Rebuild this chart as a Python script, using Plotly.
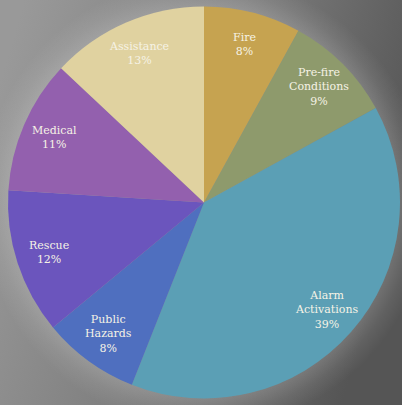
import base64
import math
import plotly.graph_objects as go

labels = ["Fire", "Pre-fire<br>Conditions", "Alarm<br>Activations", "Public<br>Hazards",
          "Rescue", "Medical", "Assistance"]
values = [8, 9, 39, 8, 12, 11, 13]
colors = ["#C6A350", "#8E9A6C", "#5B9FB5", "#4F6FBF", "#6B55BD", "#9360AE", "#E0D2A0"]

W, H = 402, 405
dom_x = [8 / W, 400 / W]
dom_y = [1 - 401 / H, 1 - 4 / H]
label_r = 0.83  # label distance as fraction of radius

svg = """<svg xmlns='http://www.w3.org/2000/svg' width='402' height='405'>
<defs>
<linearGradient id='g' x1='0' y1='0.2' x2='1' y2='0.5'>
<stop offset='0' stop-color='#999999'/>
<stop offset='0.5' stop-color='#7e7e7e'/>
<stop offset='1' stop-color='#555555'/>
</linearGradient>
<radialGradient id='r' cx='0.51' cy='0.5' r='0.56'>
<stop offset='0.84' stop-color='#ffffff' stop-opacity='0.2'/>
<stop offset='0.93' stop-color='#ffffff' stop-opacity='0.07'/>
<stop offset='1' stop-color='#ffffff' stop-opacity='0'/>
</radialGradient>
</defs>
<rect width='402' height='405' fill='url(#g)'/>
<rect width='402' height='405' fill='url(#r)'/>
</svg>"""
uri = "data:image/svg+xml;base64," + base64.b64encode(svg.encode()).decode()

fig = go.Figure(go.Pie(
    labels=labels,
    values=values,
    sort=False,
    direction="clockwise",
    rotation=0,
    marker=dict(colors=colors, line=dict(width=0)),
    textinfo="none",
    hoverinfo="label+percent",
    domain=dict(x=dom_x, y=dom_y),
    showlegend=False,
))

# label annotations placed at mid-angle of each slice (derived from values)
cx_px = (dom_x[0] + dom_x[1]) / 2 * W
cy_px = (1 - (dom_y[0] + dom_y[1]) / 2) * H
radius = min((dom_x[1] - dom_x[0]) * W, (dom_y[1] - dom_y[0]) * H) / 2
total = sum(values)
cum = 0
annotations = []
for lab, v in zip(labels, values):
    mid = (cum + v / 2) / total * 2 * math.pi
    cum += v
    px = cx_px + label_r * radius * math.sin(mid)
    py = cy_px - label_r * radius * math.cos(mid)
    annotations.append(dict(
        x=px / W, y=1 - py / H, xref="paper", yref="paper",
        text=f"{lab}<br>{round(100 * v / total)}%",
        showarrow=False, xanchor="center", yanchor="middle",
        font=dict(family="DejaVu Serif", size=11, color="#f6f3e6"),
    ))

fig.update_layout(
    width=W, height=H,
    margin=dict(l=0, r=0, t=0, b=0),
    paper_bgcolor="#7a7a7a",
    plot_bgcolor="rgba(0,0,0,0)",
    images=[dict(source=uri, xref="paper", yref="paper", x=0, y=1,
                 sizex=1, sizey=1, sizing="stretch", layer="below",
                 xanchor="left", yanchor="top")],
    annotations=annotations,
)

fig.write_html("out.html")
